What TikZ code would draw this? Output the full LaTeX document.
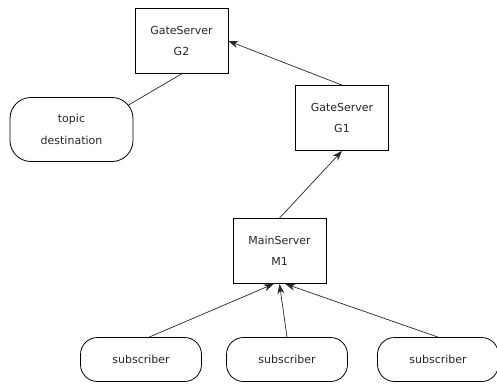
\documentclass[tikz,border=0pt]{standalone}
\usepackage{fontspec}
\setmainfont{DejaVu Sans}
\usetikzlibrary{arrows.meta,calc}
\newcommand{\srvnode}[3]{\node(#1)[server] at (#2) {#3}}
\newcommand{\subnode}[2]{\node(#1)[client,minimum width=121pt] at (#2) {subscriber}}

\begin{document}
\begin{tikzpicture}[
        x=1pt, y=-1pt,
        every node/.style={font=\fontsize{11}{21.5}\selectfont, text=black!85},
        server/.style={rectangle,minimum width=93pt,minimum height=65pt,
                       align=center,draw=black,line width=0.8pt},
        client/.style={rectangle,minimum height=44pt,rounded corners=17pt,
                       align=center,draw=black,line width=0.8pt},
        link/.style={draw=black!85,line width=0.7pt},
        arr/.style={link,-{Stealth[length=10pt,width=7pt]}}
      ]
      \useasboundingbox (0,0) rectangle (497,385);

      % Servers
      \srvnode{g2}{181.5,41}{GateServer\\G2};
      \srvnode{g1}{342,118}{GateServer\\G1};
      \srvnode{m1}{279.5,251}{MainServer\\M1};

      % Topic destination and subscribers
      \node(topic)[client,minimum width=123pt,minimum height=64pt,rounded corners=21pt]
        at (71.5,129.5) {topic\\destination};
      \subnode{sub1}{141,359.5};
      \subnode{sub2}{287,359.5};
      \subnode{sub3}{438,359.5};
      \coordinate (topicend) at ($(topic.north east)+(-5,8)$);

      % Connectors
      \draw[link] (g2.south) -- (topicend);
      \draw[arr] (g1.north) -- (g2.east);
      \draw[arr] (m1.north) -- (g1.south);
      \draw[arr] (sub1.70) -- (m1.-100);
      \draw[arr] (sub2.north) -- (m1.south);
      \draw[arr] (sub3.north) -- (m1.-80);
    \end{tikzpicture}
\end{document}
